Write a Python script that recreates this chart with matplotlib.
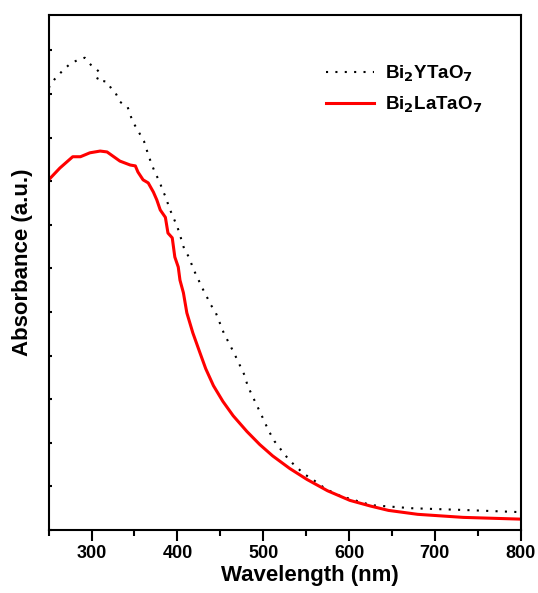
import numpy as np
import matplotlib
matplotlib.use('Agg')
import matplotlib.pyplot as plt
from matplotlib.ticker import MultipleLocator

plt.rcParams['font.family'] = ['Liberation Sans', 'DejaVu Sans']
plt.rcParams['font.weight'] = 'bold'

# Bi2YTaO7 (dotted black)
y_wl = [250, 257, 267, 275, 284, 292, 299, 304, 310, 306, 318, 324, 328, 333, 342,
        346, 349, 361, 365, 369, 374, 379, 383, 387, 390, 395, 400, 404, 408, 414,
        418, 424, 429, 435, 439, 444, 449, 454, 460, 466, 472, 478, 482, 488, 494,
        500, 506, 513, 522, 530, 539, 548, 557, 573, 590, 626, 673, 733, 800]
y_abs = [1.014, 1.034, 1.055, 1.069, 1.078, 1.083, 1.067, 1.060, 1.048, 1.032, 1.028,
         1.009, 1.002, 0.982, 0.970, 0.947, 0.933, 0.892, 0.867, 0.844, 0.819, 0.800,
         0.778, 0.761, 0.741, 0.718, 0.695, 0.670, 0.644, 0.624, 0.601, 0.576, 0.555,
         0.532, 0.516, 0.502, 0.477, 0.452, 0.429, 0.406, 0.381, 0.356, 0.330, 0.305,
         0.280, 0.255, 0.229, 0.204, 0.181, 0.161, 0.144, 0.128, 0.117, 0.094, 0.078,
         0.057, 0.050, 0.046, 0.041]

# Bi2LaTaO7 (red)
la_wl = [250, 263, 278, 287, 298, 310, 318, 333, 345, 351, 354, 360, 366, 372, 376,
         380, 386, 389, 394, 397, 401, 403, 407, 411, 418, 426, 433, 442, 453, 465,
         481, 496, 511, 531, 551, 575, 601, 625, 646, 680, 733, 800]
la_abs = [0.803, 0.830, 0.856, 0.856, 0.865, 0.869, 0.867, 0.846, 0.837, 0.835, 0.821,
          0.803, 0.796, 0.775, 0.757, 0.734, 0.717, 0.681, 0.670, 0.626, 0.603, 0.573,
          0.544, 0.498, 0.452, 0.408, 0.370, 0.331, 0.295, 0.262, 0.226, 0.196, 0.170,
          0.141, 0.116, 0.090, 0.068, 0.055, 0.045, 0.036, 0.029, 0.025]

fig = plt.figure(figsize=(5.38, 5.93), dpi=100)
ax = fig.add_axes([0.0905, 0.1062, 0.8772, 0.8685])

ax.plot(y_wl, y_abs, color='black', lw=1.5, linestyle=(0, (1, 3.5)),
        label=r'Bi$_2$YTaO$_7$')
ax.plot(la_wl, la_abs, color='#ff0000', lw=2.2, label=r'Bi$_2$LaTaO$_7$')

ax.set_xlim(250, 800)
ax.set_ylim(0, 1.181)
ax.xaxis.set_major_locator(MultipleLocator(100))
ax.xaxis.set_minor_locator(MultipleLocator(50))
ax.yaxis.set_major_locator(MultipleLocator(0.1))
ax.set_yticklabels([])

ax.tick_params(axis='x', which='major', direction='out', length=8, width=1.5,
               labelsize=13, pad=3)
ax.tick_params(axis='x', which='minor', direction='out', length=4.5, width=1.5)
ax.tick_params(axis='y', which='major', direction='in', length=2, width=1.5)
for lbl in ax.get_xticklabels():
    lbl.set_fontweight('bold')

for sp in ax.spines.values():
    sp.set_linewidth(1.5)

ax.set_xlabel('Wavelength (nm)', fontsize=16, fontweight='bold')
ax.set_ylabel('Absorbance (a.u.)', fontsize=16, fontweight='bold')
ax.xaxis.set_label_coords(0.553, -0.068)
ax.yaxis.set_label_coords(-0.033, 0.52)

leg = ax.legend(loc='upper right', bbox_to_anchor=(0.955, 0.938), frameon=False,
                fontsize=13.5, handlelength=2.56, handletextpad=0.6, labelspacing=0.55)
for t in leg.get_texts():
    t.set_fontweight('bold')

fig.savefig('out.png', dpi=100)
